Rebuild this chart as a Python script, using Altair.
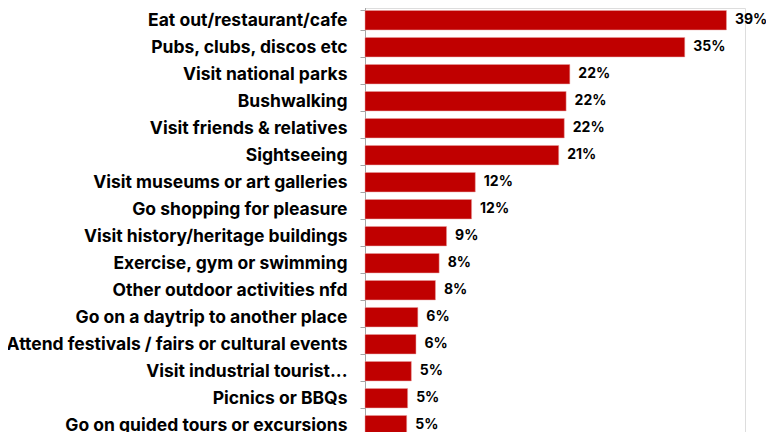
import altair as alt
import pandas as pd

activities = [
    "Eat out/restaurant/cafe",
    "Pubs, clubs, discos etc",
    "Visit national parks",
    "Bushwalking",
    "Visit friends & relatives",
    "Sightseeing",
    "Visit museums or art galleries",
    "Go shopping for pleasure",
    "Visit history/heritage buildings",
    "Exercise, gym or swimming",
    "Other outdoor activities nfd",
    "Go on a daytrip to another place",
    "Attend festivals / fairs or cultural events",
    "Visit industrial tourist...",
    "Picnics or BBQs",
    "Go on guided tours or excursions",
]
shares = [39.0, 34.5, 22.1, 21.7, 21.5, 20.9, 11.9, 11.5, 8.8, 8.0, 7.6, 5.7, 5.5, 5.0, 4.6, 4.5]
labels = ["39%", "35%", "22%", "22%", "22%", "21%", "12%", "12%", "9%", "8%", "8%", "6%", "6%", "5%", "5%", "5%"]

df = pd.DataFrame({"activity": activities, "share": shares, "label": labels})

FONT = "Inter"

y_enc = alt.Y(
    "activity:N",
    sort=activities,
    title=None,
    scale=alt.Scale(range=[-1.3, 430.7], paddingInner=0.28, paddingOuter=0.14),
    axis=alt.Axis(
        tickBand="extent",
        tickSize=5,
        tickColor="#a6a6a6",
        domainColor="#a6a6a6",
        labelFont=FONT,
        labelFontSize=17.5,
        labelFontWeight="bold",
        labelColor="#000000",
        labelPadding=13,
        labelLimit=400,
    ),
)
x_enc = alt.X(
    "share:Q",
    title=None,
    scale=alt.Scale(domain=[0, 41], nice=False),
    axis=None,
)

bars = alt.Chart(df).mark_bar(color="#C00000", stroke="#e8a0a0", strokeWidth=0.5).encode(x=x_enc, y=y_enc)
text = alt.Chart(df).mark_text(
    align="left", baseline="middle", dx=8.5, font=FONT, fontSize=14, fontWeight="bold", color="#000000"
).encode(x=x_enc, y=y_enc, text="label:N")

chart = (
    alt.layer(bars, text)
    .properties(
        width=380,
        height=432,
        autosize=alt.AutoSizeParams(type="none"),
        padding={"left": 357, "top": 0, "right": 21, "bottom": 0},
    )
    .configure_view(stroke=None)
    .configure(background="white")
)

chart.save("out.html", embed_options={"renderer": "svg", "actions": False})
